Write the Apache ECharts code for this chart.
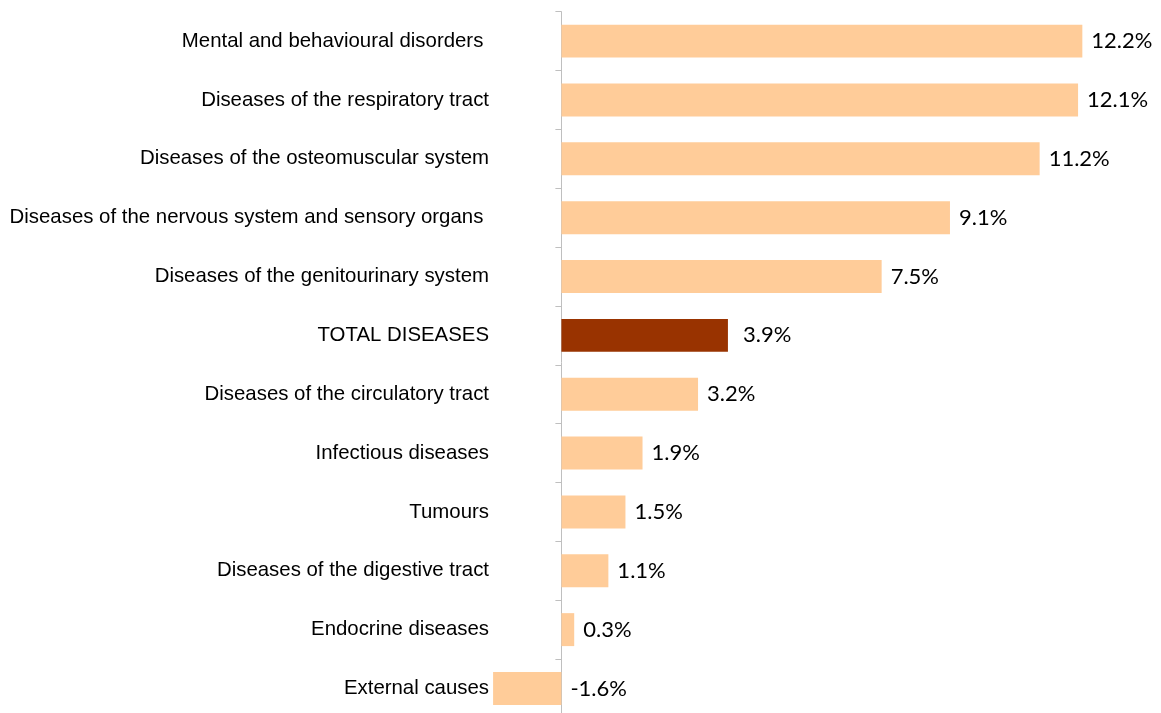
<!DOCTYPE html>
<html>
<head>
<meta charset="utf-8">
<script src="https://cdn.jsdelivr.net/npm/echarts@6/dist/echarts.min.js"></script>
<style>
  html, body { margin: 0; padding: 0; background: #ffffff; }
  #chart { width: 1161px; height: 713px; }
</style>
</head>
<body>
<div id="chart"></div>
<script>
// Year-on-year change by disease group (%)
const categories = [
  'Mental and behavioural disorders ',
  'Diseases of the respiratory tract',
  'Diseases of the osteomuscular system',
  'Diseases of the nervous system and sensory organs ',
  'Diseases of the genitourinary system',
  'TOTAL DISEASES',
  'Diseases of the circulatory tract',
  'Infectious diseases',
  'Tumours',
  'Diseases of the digestive tract',
  'Endocrine diseases',
  'External causes'
];
const changes = [12.2, 12.1, 11.2, 9.1, 7.5, 3.9, 3.2, 1.9, 1.5, 1.1, 0.3, -1.6];
const highlighted = 'TOTAL DISEASES';

const chart = echarts.init(document.getElementById('chart'));
chart.setOption({
  animation: false,
  grid: {
    left: 476, top: 11.7, width: 683.2, height: 706.2,
    containLabel: false,
    outerBoundsMode: 'none'
  },
  xAxis: {
    type: 'value',
    min: -2,
    max: 14,
    show: false
  },
  yAxis: {
    type: 'category',
    data: categories,
    inverse: true,
    axisLine: { show: true, onZero: true, lineStyle: { color: '#BFBFBF', width: 1 } },
    axisTick: { show: true, length: 6, lineStyle: { color: '#BFBFBF' } },
    axisLabel: {
      // labels stay at the grid's left edge, so pull them right to sit just left of the zero line
      margin: -13,
      color: '#000000',
      fontFamily: 'Liberation Sans, Arial, sans-serif',
      fontSize: 20.4
    },
    splitLine: { show: false }
  },
  series: [{
    type: 'bar',
    data: changes.map((v, i) => {
      const isTotal = categories[i] === highlighted;
      return {
        value: v,
        itemStyle: { color: isTotal ? '#993300' : '#FFCC99' },
        label: isTotal ? { distance: 15 } : undefined
      };
    }),
    barCategoryGap: '44%',
    label: {
      show: true,
      position: 'right',
      distance: 9,
      color: '#000000',
      fontFamily: 'Lato, sans-serif',
      fontSize: 22,
      formatter: p => p.value.toFixed(1) + '%'
    }
  }]
});
</script>
</body>
</html>
